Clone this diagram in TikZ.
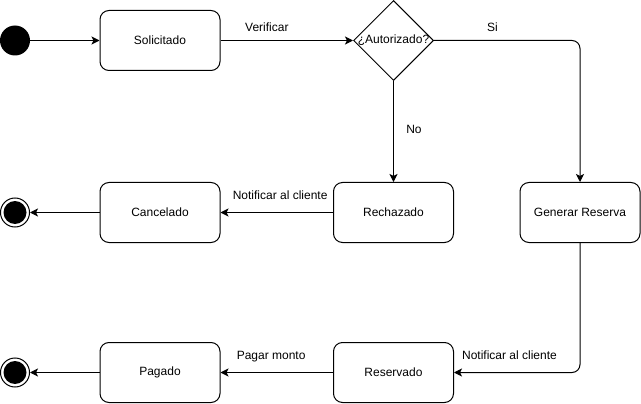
\documentclass[tikz,border=0pt]{standalone}
\usepackage{fontspec}
\setmainfont{Liberation Sans}
\usetikzlibrary{shapes.geometric,arrows.meta}
\begin{document}
\begin{tikzpicture}[x=1pt,y=-1pt,
every node/.style={font=\fontsize{12pt}{14pt}\selectfont},
estado/.style={rectangle, rounded corners=9pt, draw, line width=1pt, minimum width=120pt, minimum height=60pt, inner sep=0pt},
decision/.style={diamond, draw, line width=1pt, minimum width=80pt, minimum height=80pt, inner sep=0pt},
inicio/.style={circle, fill, minimum size=30pt, inner sep=0pt},
fin/.style={circle, draw, line width=1pt, minimum size=29pt, inner sep=0pt},
finc/.style={circle, fill, minimum size=23pt, inner sep=0pt},
flecha/.style={line width=1pt, -{Stealth[length=8pt,width=8pt,inset=2pt]}, rounded corners=8pt},
etq/.style={anchor=base}]
\useasboundingbox (0,0) rectangle (641,404);
\node[inicio] (ini) at (15,40.5){};
\node[estado] (st1) at (160,40.5){Solicitado};
\node[decision] (dec) at (393.5,40.5){\makebox[0pt]{¿Autorizado?}};
\node[estado] (st2) at (160,212.5){Cancelado};
\node[estado] (st3) at (393.5,212.5){Rechazado};
\node[estado] (st4) at (580,212.5){Generar Reserva};
\node[estado] (st5) at (160,372.5){Pagado};
\node[estado] (st6) at (393.5,372.5){Reservado};
\node[fin] (fin1) at (15,212.5){};
\node[finc] (fin1c) at (fin1){};
\node[fin] (fin2) at (15,372.5){};
\node[finc] (fin2c) at (fin2){};
\draw[flecha](ini) -- (st1);
\draw[flecha](st1) -- node[etq, pos=.35, yshift=9pt]{Verificar} (dec);
\draw[flecha](dec) -| node[etq, pos=.2, yshift=9pt]{Si} (st4);
\draw[flecha](dec) -- node[etq, anchor=base west, pos=.52, xshift=9pt]{No} (st3);
\draw[flecha](st3) -- node[etq, pos=.47, yshift=13pt]{Notificar al cliente} (st2);
\draw[flecha](st2) -- (fin1);
\draw[flecha](st4) |- node[etq, pos=.78, yshift=13pt]{Notificar al cliente} (st6);
\draw[flecha](st6) -- node[etq, pos=.55, yshift=13pt]{Pagar monto} (st5);
\draw[flecha](st5) -- (fin2);
\end{tikzpicture}
\end{document}
